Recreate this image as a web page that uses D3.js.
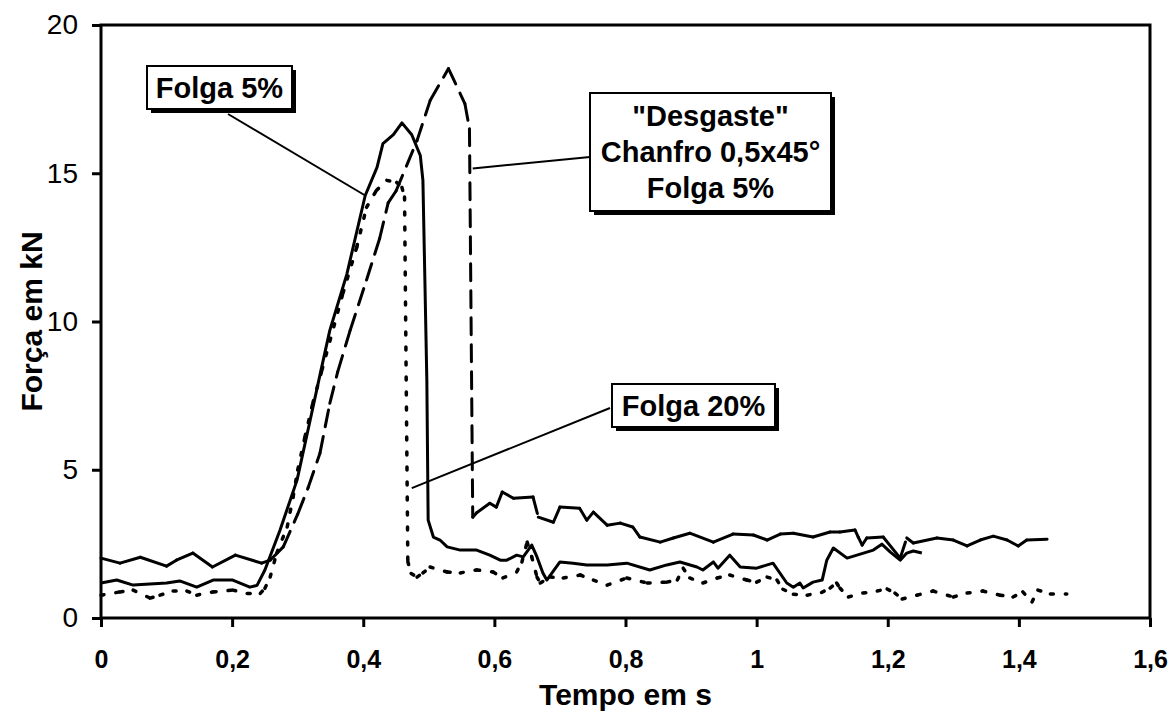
<!DOCTYPE html>
<html>
<head>
<meta charset="utf-8">
<script src="https://cdn.jsdelivr.net/npm/d3@7"></script>
<style>
  body { margin: 0; background: #fff; }
  svg { font-family: Arial, "Liberation Sans", sans-serif; }
</style>
</head>
<body>
<div id="chart"></div>
<script>
// each series: [tempo em s, força em kN]
var desgaste = [
  [0, 2.02], [0.029, 1.85], [0.06, 2.05], [0.10, 1.75], [0.115, 1.95], [0.14, 2.19],
  [0.17, 1.72], [0.205, 2.12], [0.245, 1.85], [0.258, 1.95], [0.278, 2.4], [0.30, 3.5],
  [0.316, 4.4], [0.334, 5.56], [0.349, 7.24], [0.361, 8.3], [0.38, 9.7], [0.405, 11.4],
  [0.425, 12.8], [0.438, 14.0], [0.45, 14.4], [0.482, 16.1], [0.502, 17.45], [0.53, 18.53],
  [0.555, 17.35], [0.562, 16.5], [0.567, 3.4], [0.573, 3.55], [0.593, 3.87], [0.603, 3.74],
  [0.612, 4.25], [0.629, 4.04], [0.659, 4.08], [0.667, 3.4], [0.69, 3.23], [0.70, 3.74],
  [0.73, 3.7], [0.741, 3.3], [0.751, 3.57], [0.772, 3.13], [0.792, 3.2], [0.811, 3.07],
  [0.822, 2.73], [0.853, 2.56], [0.873, 2.7], [0.898, 2.86], [0.934, 2.56], [0.964, 2.83],
  [0.995, 2.8], [1.016, 2.63], [1.036, 2.83], [1.056, 2.86], [1.086, 2.73], [1.112, 2.9],
  [1.127, 2.9], [1.15, 2.97], [1.155, 2.73], [1.161, 2.46], [1.168, 2.7], [1.193, 2.73],
  [1.219, 2.02], [1.229, 2.7], [1.239, 2.53], [1.275, 2.7], [1.30, 2.63], [1.321, 2.43],
  [1.341, 2.63], [1.361, 2.76], [1.382, 2.63], [1.399, 2.43], [1.412, 2.63], [1.443, 2.66]
];

var folga5 = [
  [0, 1.18], [0.024, 1.28], [0.049, 1.11], [0.10, 1.18], [0.12, 1.25], [0.146, 1.04],
  [0.171, 1.28], [0.201, 1.28], [0.227, 1.04], [0.238, 1.1], [0.25, 1.62], [0.273, 2.96],
  [0.299, 4.65], [0.319, 6.67], [0.335, 8.3], [0.349, 9.7], [0.375, 11.6], [0.403, 14.25],
  [0.421, 15.2], [0.43, 16.0], [0.446, 16.3], [0.459, 16.7], [0.474, 16.3], [0.487, 15.6],
  [0.491, 14.76], [0.494, 11.4], [0.497, 8.0], [0.499, 3.3], [0.507, 2.73], [0.517, 2.63],
  [0.528, 2.4], [0.548, 2.29], [0.573, 2.29], [0.593, 2.12], [0.609, 1.95], [0.619, 1.95],
  [0.634, 2.12], [0.644, 2.06], [0.657, 2.46], [0.665, 2.06], [0.674, 1.52], [0.68, 1.28],
  [0.70, 1.89], [0.72, 1.85], [0.741, 1.79], [0.772, 1.79], [0.802, 1.85], [0.837, 1.62],
  [0.863, 1.79], [0.883, 1.89], [0.909, 1.72], [0.918, 1.62], [0.934, 1.89], [0.941, 1.68],
  [0.959, 2.12], [0.975, 1.72], [1.0, 1.68], [1.025, 1.85], [1.046, 1.18], [1.056, 1.04],
  [1.066, 1.18], [1.071, 1.01], [1.086, 1.21], [1.10, 1.28], [1.107, 1.95], [1.117, 2.36],
  [1.138, 2.02], [1.153, 2.12], [1.178, 2.29], [1.191, 2.49], [1.204, 2.22], [1.219, 1.95],
  [1.229, 2.19], [1.239, 2.26], [1.252, 2.19]
];

var folga20 = [
  [0, 0.77], [0.029, 0.88], [0.049, 0.94], [0.075, 0.67], [0.09, 0.77], [0.11, 0.91],
  [0.131, 0.91], [0.146, 0.77], [0.171, 0.88], [0.201, 0.94], [0.223, 0.83], [0.243, 0.83],
  [0.25, 1.0], [0.258, 1.38], [0.268, 2.19], [0.284, 3.07], [0.293, 4.08], [0.30, 4.99],
  [0.311, 6.1], [0.323, 7.24], [0.337, 8.36], [0.369, 10.95], [0.39, 12.5], [0.405, 13.85],
  [0.42, 14.42], [0.436, 14.76], [0.451, 14.69], [0.459, 14.52], [0.463, 14.2], [0.468, 1.9],
  [0.473, 1.5], [0.482, 1.38], [0.491, 1.52], [0.502, 1.72], [0.528, 1.55], [0.548, 1.52],
  [0.573, 1.62], [0.598, 1.55], [0.613, 1.35], [0.634, 1.55], [0.642, 1.89], [0.65, 2.56],
  [0.657, 2.06], [0.665, 1.38], [0.67, 1.18], [0.685, 1.38], [0.705, 1.35], [0.731, 1.45],
  [0.751, 1.28], [0.772, 1.11], [0.802, 1.35], [0.833, 1.18], [0.863, 1.21], [0.879, 1.28],
  [0.888, 1.68], [0.898, 1.35], [0.918, 1.18], [0.94, 1.35], [0.959, 1.45], [0.985, 1.28],
  [1.0, 1.21], [1.016, 1.38], [1.031, 1.28], [1.04, 0.97], [1.056, 0.8], [1.077, 0.77],
  [1.099, 0.86], [1.112, 1.01], [1.122, 1.18], [1.127, 1.01], [1.14, 0.71], [1.162, 0.84],
  [1.184, 0.91], [1.199, 0.98], [1.211, 0.84], [1.222, 0.64], [1.245, 0.77], [1.269, 0.91],
  [1.30, 0.71], [1.321, 0.84], [1.345, 0.91], [1.371, 0.77], [1.391, 0.71], [1.406, 0.88],
  [1.42, 0.54], [1.429, 0.94], [1.448, 0.81], [1.473, 0.81]
];

var xTicks = [0, 0.2, 0.4, 0.6, 0.8, 1.0, 1.2, 1.4, 1.6];
var xTickLabels = ['0', '0,2', '0,4', '0,6', '0,8', '1', '1,2', '1,4', '1,6'];
var yTicks = [0, 5, 10, 15, 20];
var yTickLabels = ['0', '5', '10', '15', '20'];

// callouts: text lines, box in px, point on the curve it points to
var callouts = [
  { lines: ['Folga 5%'], box: [147, 66, 145, 43], from: [228, 114], at: [0.403, 14.25] },
  { lines: ['"Desgaste"', 'Chanfro 0,5x45°', 'Folga 5%'], box: [590, 93, 241, 118], from: [590, 157], at: [0.567, 15.16] },
  { lines: ['Folga 20%'], box: [612, 384, 163, 43], from: [610, 408], at: [0.474, 4.38] }
];

var width = 1172, height = 712;
var plot = { left: 101, right: 1150, top: 25, bottom: 618 };

var xScale = d3.scaleLinear().domain([0, 1.6]).range([plot.left, plot.right]);
var yScale = d3.scaleLinear().domain([0, 20]).range([plot.bottom, plot.top]);

var svg = d3.select('#chart').append('svg')
  .attr('width', width)
  .attr('height', height)
  .style('background', '#fff');

// y axis
var yAxis = d3.axisLeft(yScale)
  .tickValues(yTicks)
  .tickFormat(function(d, i) { return yTickLabels[i]; })
  .tickSize(9)
  .tickSizeOuter(0)
  .tickPadding(14);

var yGuide = svg.append('g')
  .attr('transform', 'translate(' + plot.left + ',0)')
  .call(yAxis);
yGuide.select('.domain').remove();
yGuide.selectAll('line').attr('stroke', '#000').attr('stroke-width', 3);
yGuide.selectAll('text')
  .attr('fill', '#000')
  .style('font-size', '28px');

// x axis
var xAxis = d3.axisBottom(xScale)
  .tickValues(xTicks)
  .tickFormat(function(d, i) { return xTickLabels[i]; })
  .tickSize(9)
  .tickSizeOuter(0)
  .tickPadding(23);

var xGuide = svg.append('g')
  .attr('transform', 'translate(0,' + plot.bottom + ')')
  .call(xAxis);
xGuide.select('.domain').remove();
xGuide.selectAll('line').attr('stroke', '#000').attr('stroke-width', 3);
xGuide.selectAll('text')
  .attr('fill', '#000')
  .style('font-size', '25px')
  .style('font-weight', 'bold');

// plot frame
svg.append('rect')
  .attr('x', plot.left)
  .attr('y', plot.top)
  .attr('width', plot.right - plot.left)
  .attr('height', plot.bottom - plot.top)
  .attr('fill', 'none')
  .attr('stroke', '#000')
  .attr('stroke-width', 3);

// solid series
var line = d3.line()
  .x(function(d) { return xScale(d[0]); })
  .y(function(d) { return yScale(d[1]); });

svg.append('path')
  .datum(folga5)
  .attr('d', line)
  .attr('fill', 'none')
  .attr('stroke', '#000')
  .attr('stroke-width', 3)
  .attr('stroke-linejoin', 'round');

// broken series drawn segment by segment: the pattern restarts on every
// segment, so flat stretches (many short segments in the original) look solid
function drawSegments(data, dash, w, onlySteep) {
  svg.append('g').selectAll('line')
    .data(d3.pairs(data))
    .enter().append('line')
      .attr('x1', function(d) { return xScale(d[0][0]); })
      .attr('y1', function(d) { return yScale(d[0][1]); })
      .attr('x2', function(d) { return xScale(d[1][0]); })
      .attr('y2', function(d) { return yScale(d[1][1]); })
      .attr('stroke', '#000')
      .attr('stroke-width', w)
      .attr('stroke-linecap', 'round')
      .attr('stroke-dasharray', function(d) {
        if (!onlySteep) return dash;
        var dx = Math.abs(xScale(d[1][0]) - xScale(d[0][0]));
        var dy = Math.abs(yScale(d[1][1]) - yScale(d[0][1]));
        return dy > 1.5 * dx ? dash : null;
      });
}

drawSegments(desgaste, '17,10', 3, true);
drawSegments(folga20, '3,12', 3.5, false);

// callouts
callouts.forEach(function(c) {
  var g = svg.append('g');
  g.append('line')
    .attr('x1', c.from[0])
    .attr('y1', c.from[1])
    .attr('x2', xScale(c.at[0]))
    .attr('y2', yScale(c.at[1]))
    .attr('stroke', '#000')
    .attr('stroke-width', 2);
  // shadow
  g.append('rect')
    .attr('x', c.box[0] + 4)
    .attr('y', c.box[1] + 4)
    .attr('width', c.box[2])
    .attr('height', c.box[3])
    .attr('fill', '#000');
  g.append('rect')
    .attr('x', c.box[0])
    .attr('y', c.box[1])
    .attr('width', c.box[2])
    .attr('height', c.box[3])
    .attr('fill', '#fff')
    .attr('stroke', '#000')
    .attr('stroke-width', 2);
  var cx = c.box[0] + c.box[2] / 2;
  var lineH = 36;
  var firstY = c.box[1] + c.box[3] / 2 - (c.lines.length - 1) * lineH / 2 + 10;
  c.lines.forEach(function(t, i) {
    g.append('text')
      .attr('x', cx)
      .attr('y', firstY + i * lineH)
      .attr('text-anchor', 'middle')
      .style('font-size', '29px')
      .style('font-weight', 'bold')
      .text(t);
  });
});

// axis titles
svg.append('text')
  .attr('x', (plot.left + plot.right) / 2)
  .attr('y', 705)
  .attr('text-anchor', 'middle')
  .style('font-size', '30px')
  .style('font-weight', 'bold')
  .text('Tempo em s');

svg.append('text')
  .attr('transform', 'translate(42,' + ((plot.top + plot.bottom) / 2) + ') rotate(-90)')
  .attr('text-anchor', 'middle')
  .style('font-size', '30px')
  .style('font-weight', 'bold')
  .text('Força em kN');
</script>
</body>
</html>
